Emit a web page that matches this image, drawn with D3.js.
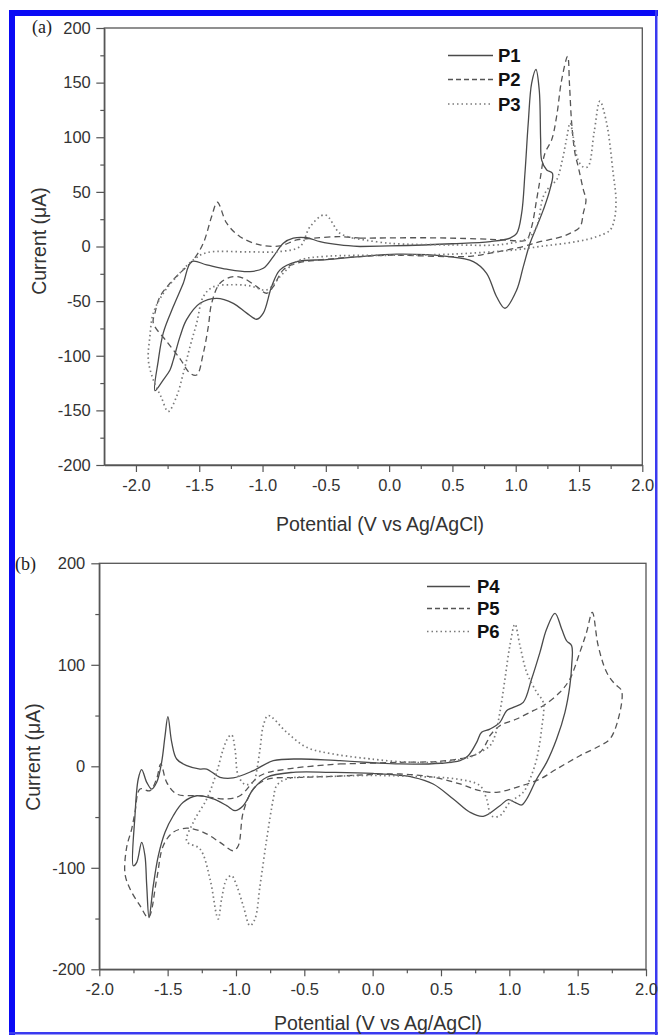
<!DOCTYPE html>
<html>
<head>
<meta charset="utf-8">
<script src="https://cdn.jsdelivr.net/npm/d3@7"></script>
<style>
  body { margin: 0; background: #fff; }
  svg { display: block; }
</style>
</head>
<body>
<script>
// ---- data: [potential (V), current (uA)] ----
var p1 = [[-0.23,0],[0.0,0.5],[0.5,2.5],[0.8,4.5],[0.955,7.6],[1.008,12],[1.047,30.5],[1.073,67],[1.099,113],
  [1.126,149.5],[1.16,162],[1.186,143],[1.197,97.6],[1.205,79],[1.245,70],[1.29,67],[1.27,52],[1.218,33.5],
  [1.165,18],[1.113,3],[1.06,-18.4],[1.007,-40],[0.915,-56.5],[0.849,-46],[0.77,-24.5],[0.665,-13.8],
  [0.455,-9],[0.06,-7],[-0.23,-9.2],[-0.493,-12],[-0.73,-13.8],[-0.862,-21.4],[-0.928,-36.7],[-0.994,-61],
  [-1.046,-66.6],[-1.125,-61],[-1.231,-52],[-1.362,-47.4],[-1.494,-52],[-1.6,-67],[-1.652,-82.5],[-1.705,-104],
  [-1.731,-113],[-1.784,-122],[-1.85,-132],[-1.823,-104],[-1.784,-79],[-1.705,-55],[-1.626,-33.6],[-1.56,-13.8],
  [-1.441,-16.8],[-1.283,-20.8],[-1.099,-23],[-0.994,-19.9],[-0.915,-9.2],[-0.836,3],[-0.757,7.6],[-0.651,8],
  [-0.546,4.5],[-0.388,1.5],[-0.23,0]];
var p2 = [[-0.23,7.6],[0.3,8],[0.7,7],[0.9,6],[1.05,5],[1.087,6],[1.126,18],[1.165,42.7],[1.192,61],[1.231,85.4],
  [1.284,97.6],[1.323,119],[1.363,152.5],[1.41,174],[1.425,148],[1.442,113],[1.468,85.4],[1.494,73],[1.534,52],
  [1.555,42.7],[1.534,30.5],[1.508,18],[1.428,12],[1.323,7.6],[1.19,4.5],[1.06,0],[0.8,-6],[0.64,-9],[0.0,-8],
  [-0.23,-9.2],[-0.546,-12.3],[-0.73,-15.3],[-0.836,-21.4],[-0.915,-36.7],[-0.967,-42.8],[-1.046,-36.7],
  [-1.152,-29],[-1.231,-27.5],[-1.336,-33.6],[-1.402,-52],[-1.428,-73],[-1.468,-97.7],[-1.52,-117.6],
  [-1.573,-116],[-1.65,-103],[-1.75,-88],[-1.863,-70],[-1.85,-61],[-1.81,-45.9],[-1.731,-33.6],[-1.626,-21.4],
  [-1.547,-12.3],[-1.468,3],[-1.402,27.4],[-1.357,40.5],[-1.283,21.3],[-1.178,9],[-1.02,1.5],[-0.862,0.5],
  [-0.73,6],[-0.598,7.6],[-0.388,9],[-0.23,7.6]];
var p3 = [[-0.28,7.6],[0.0,3],[0.5,1.5],[0.9,2],[1.1,8],[1.165,18],[1.218,45.7],[1.27,55],[1.323,61],[1.37,80],
  [1.40,97.6],[1.43,113],[1.455,100],[1.49,80],[1.53,73],[1.57,73],[1.62,105],[1.665,133],[1.718,113],[1.77,67],
  [1.792,42.7],[1.78,25],[1.745,15],[1.64,9],[1.481,4.5],[1.19,0],[1.0,-3],[0.5,-7],[0.0,-8],[-0.5,-9],
  [-0.704,-12.3],[-0.783,-18.4],[-0.862,-27.5],[-0.967,-39.7],[-1.1,-36],[-1.231,-35],[-1.39,-37],[-1.468,-45.9],
  [-1.52,-70],[-1.573,-91.7],[-1.626,-116],[-1.678,-137],[-1.745,-151],[-1.80,-138],[-1.863,-122],[-1.902,-104],
  [-1.89,-82.5],[-1.863,-61],[-1.784,-42.8],[-1.678,-27.5],[-1.547,-12.3],[-1.441,-5.6],[-1.1,-5],[-0.862,-4.6],
  [-0.704,0],[-0.625,18],[-0.507,29],[-0.388,12],[-0.28,7.6]];

var p4 = [[-0.239,5.5],[0.2,2.3],[0.5,3],[0.639,5.5],[0.699,10.4],[0.761,23.6],[0.797,33.5],[0.858,36.7],
  [0.931,43.3],[0.98,54.8],[1.029,58.1],[1.102,63],[1.163,86],[1.224,112.3],[1.273,135.3],[1.334,150.7],
  [1.383,135.3],[1.419,123.7],[1.456,118.8],[1.456,99],[1.443,79.4],[1.407,53.2],[1.346,26.9],[1.273,3.9],
  [1.2,-12.5],[1.127,-32.2],[1.09,-38.1],[1.041,-35.5],[0.992,-32.9],[0.931,-38.8],[0.809,-49.3],[0.712,-45.3],
  [0.59,-32.2],[0.443,-17.4],[0.297,-10.8],[0.0,-7],[-0.312,-5.9],[-0.581,-5.9],[-0.775,-10.8],[-0.873,-22.4],
  [-0.947,-38.8],[-1.007,-43.7],[-1.068,-38.8],[-1.166,-32.2],[-1.287,-29],[-1.386,-35.5],[-1.459,-48.7],
  [-1.519,-65],[-1.568,-88],[-1.605,-117.6],[-1.636,-149],[-1.653,-117.6],[-1.666,-88],[-1.69,-75],
  [-1.726,-94.6],[-1.751,-98],[-1.739,-48.7],[-1.715,-12.5],[-1.69,-3.3],[-1.653,-15.8],[-1.617,-22.4],
  [-1.58,-15.8],[-1.544,3.9],[-1.519,30],[-1.498,49],[-1.47,23.6],[-1.434,7.2],[-1.36,0.6],[-1.263,-2.7],
  [-1.214,-2.7],[-1.117,-10.8],[-1.02,-11.5],[-0.873,-4.3],[-0.727,5.5],[-0.532,7.2],[-0.239,5.5]];
var p5 = [[-0.239,2.3],[0.2,3.9],[0.5,5],[0.688,8.9],[0.785,13.8],[0.84,25],[0.858,30.1],[0.931,40],[1.053,46.6],
  [1.175,54.8],[1.248,59.7],[1.37,72.9],[1.443,86],[1.516,112.3],[1.565,132],[1.607,151.7],[1.65,118.8],
  [1.712,92.6],[1.772,81.1],[1.821,74.5],[1.797,46.6],[1.736,26.9],[1.663,20.3],[1.516,10.4],[1.346,-2.7],
  [1.224,-12.5],[1.053,-20.7],[0.907,-25.6],[0.785,-24],[0.639,-17.4],[0.443,-10.8],[0.2,-7.6],[-0.3,-10],
  [-0.532,-11],[-0.775,-13],[-0.873,-22.4],[-0.947,-45.3],[-0.983,-78.2],[-1.02,-83.2],[-1.117,-74.9],
  [-1.239,-65],[-1.36,-61],[-1.459,-65],[-1.532,-78.2],[-1.58,-111],[-1.641,-149],[-1.702,-137.3],
  [-1.775,-120.8],[-1.812,-106],[-1.80,-80],[-1.763,-61.8],[-1.739,-45.3],[-1.702,-22.4],[-1.629,-24],
  [-1.58,-12],[-1.55,2.3],[-1.507,-15.8],[-1.434,-27.3],[-1.263,-29],[-1.068,-32.2],[-0.971,-29],[-0.824,-9.3],
  [-0.629,-2.7],[-0.239,2.3]];
var p6 = [[0.0,7],[0.2,4.5],[0.5,4],[0.688,8],[0.785,13.8],[0.858,20.3],[0.895,30.1],[0.931,53.2],[0.968,86],
  [1.004,118.8],[1.041,140],[1.078,118.8],[1.127,92.6],[1.2,72.9],[1.248,63],[1.236,36.7],[1.2,7.2],[1.151,-12.5],
  [1.102,-25.6],[1.004,-35.5],[0.931,-48.7],[0.87,-49],[0.834,-32.2],[0.785,-19],[0.614,-12.5],[0.3,-10],
  [0.0,-9],[-0.3,-10],[-0.629,-12.5],[-0.702,-19],[-0.727,-32.2],[-0.775,-71.6],[-0.824,-117.6],[-0.861,-150.4],
  [-0.898,-157],[-0.947,-137.3],[-0.995,-117.6],[-1.032,-107.8],[-1.068,-111],[-1.105,-130.7],[-1.129,-150.4],
  [-1.141,-147],[-1.19,-111],[-1.263,-81.5],[-1.36,-74],[-1.312,-55],[-1.214,-32.2],[-1.141,-5.9],[-1.093,17],
  [-1.056,28.6],[-1.032,31],[-1.007,17],[-0.983,-9.3],[-0.93,-18],[-0.87,-15],[-0.849,-5],[-0.824,17],[-0.8,40],
  [-0.764,50],[-0.629,33.5],[-0.483,18.7],[-0.288,12.1],[0.0,7]];

// ---- ticks and labels ----
var aYMajor = [-200, -150, -100, -50, 0, 50, 100, 150, 200];
var aYMinor = [-175, -125, -75, -25, 25, 75, 125, 175];
var aXMajor = [-2.0, -1.5, -1.0, -0.5, 0.0, 0.5, 1.0, 1.5, 2.0];
var aXMinor = [-1.75, -1.25, -0.75, -0.25, 0.25, 0.75, 1.25, 1.75];
var bYMajor = [-200, -100, 0, 100, 200];
var bYMinor = [-150, -50, 50, 150];
var bXMajor = [-2.0, -1.5, -1.0, -0.5, 0.0, 0.5, 1.0, 1.5, 2.0];
var bXMinor = [-1.75, -1.25, -0.75, -0.25, 0.25, 0.75, 1.25, 1.75];
var aNames = ['P1', 'P2', 'P3'];
var bNames = ['P4', 'P5', 'P6'];

var W = 658, H = 1035;
var sans = "'Liberation Sans', Arial, sans-serif";
var serif = "'Liberation Serif', 'Times New Roman', serif";

var styles = [
  {stroke: '#4a4a4a', width: 1.3, dash: null},
  {stroke: '#555', width: 1.3, dash: '6,4'},
  {stroke: '#7a7a7a', width: 1.7, dash: '1.5,3'}
];

var svg = d3.select('body').append('svg')
  .attr('width', W)
  .attr('height', H);

svg.append('rect').attr('width', W).attr('height', H).attr('fill', '#fff');

// blue frame round the figure
svg.append('rect').attr('x', 9).attr('y', 10).attr('width', 6).attr('height', H - 10).attr('fill', '#0a0af5');
svg.append('rect').attr('x', 9).attr('y', 10).attr('width', W - 9).attr('height', 6).attr('fill', '#0a0af5');
svg.append('rect').attr('x', 655).attr('y', 10).attr('width', 2.5).attr('height', H - 10).attr('fill', '#3a3af0');
svg.append('rect').attr('x', 9).attr('y', 1032).attr('width', W - 9).attr('height', 2.5).attr('fill', '#3a3af0');

function drawPanel(p) {
  var x = d3.scaleLinear().domain(p.xDomain).range([p.left, p.right]);
  var y = d3.scaleLinear().domain([-200, 200]).range([p.bottom, p.top]);

  // box
  svg.append('rect')
    .attr('x', p.left).attr('y', p.top)
    .attr('width', p.right - p.left).attr('height', p.bottom - p.top)
    .attr('fill', 'none').attr('stroke', '#555').attr('stroke-width', 1.3);

  // curves
  var line = d3.line()
    .x(function(d) { return x(d[0]); })
    .y(function(d) { return y(d[1]); })
    .curve(d3.curveCatmullRom.alpha(0.5));

  p.series.forEach(function(s, i) {
    svg.append('path')
      .datum(s)
      .attr('d', line)
      .attr('fill', 'none')
      .attr('stroke', styles[i].stroke)
      .attr('stroke-width', styles[i].width)
      .attr('stroke-dasharray', styles[i].dash)
      .attr('stroke-linejoin', 'round');
  });

  // y axis
  var gy = svg.append('g')
    .attr('transform', 'translate(' + p.left + ',0)')
    .call(d3.axisLeft(y).tickValues(p.yMajor).tickSize(8).tickSizeOuter(0).tickPadding(p.yPad)
      .tickFormat(function(d) { return String(d); }));
  svg.append('g')
    .attr('transform', 'translate(' + p.left + ',0)')
    .call(d3.axisLeft(y).tickValues(p.yMinor).tickSize(4).tickSizeOuter(0).tickFormat(''))
    .select('.domain').remove();

  // x axis
  var gx = svg.append('g')
    .attr('transform', 'translate(0,' + p.bottom + ')')
    .call(d3.axisBottom(x).tickValues(p.xMajor).tickSize(7).tickSizeOuter(0).tickPadding(7)
      .tickFormat(function(d) { return d.toFixed(1); }));
  svg.append('g')
    .attr('transform', 'translate(0,' + p.bottom + ')')
    .call(d3.axisBottom(x).tickValues(p.xMinor).tickSize(4).tickSizeOuter(0).tickFormat(''))
    .select('.domain').remove();

  svg.selectAll('.tick line').attr('stroke', '#555').attr('stroke-width', 1.2);
  svg.selectAll('.domain').attr('stroke', '#555').attr('stroke-width', 1.3);
  [gx, gy].forEach(function(g) {
    g.attr('font-family', sans).attr('font-size', '16.5px');
    g.selectAll('text').attr('fill', '#333');
  });

  // axis titles
  svg.append('text')
    .attr('transform', 'translate(' + p.yTitle[0] + ',' + p.yTitle[1] + ') rotate(-90)')
    .attr('text-anchor', 'middle')
    .attr('font-family', sans).attr('font-size', '19.5px').attr('fill', '#333')
    .text('Current (\u03bcA)');
  svg.append('text')
    .attr('x', p.xTitle[0]).attr('y', p.xTitle[1])
    .attr('text-anchor', 'middle')
    .attr('font-family', sans).attr('font-size', '19.5px').attr('fill', '#333')
    .text('Potential (V vs Ag/AgCl)');

  // panel tag
  svg.append('text')
    .attr('x', p.tag[1]).attr('y', p.tag[2])
    .attr('font-family', serif).attr('font-size', '18px').attr('fill', '#222')
    .text(p.tag[0]);

  // legend
  p.names.forEach(function(name, i) {
    var cy = p.legY[i];
    svg.append('line')
      .attr('x1', p.legX[0]).attr('x2', p.legX[1])
      .attr('y1', cy).attr('y2', cy)
      .attr('stroke', styles[i].stroke)
      .attr('stroke-width', styles[i].width)
      .attr('stroke-dasharray', i === 1 ? '5,3' : styles[i].dash);
    svg.append('text')
      .attr('x', p.legX[2]).attr('y', cy + 6.5)
      .attr('font-family', sans).attr('font-size', '18.5px').attr('font-weight', 'bold')
      .attr('fill', '#111')
      .text(name);
  });
}

drawPanel({
  xDomain: [-2.25, 2.0], left: 104.3, right: 642.3, top: 28, bottom: 465,
  yMajor: aYMajor, yMinor: aYMinor, xMajor: aXMajor, xMinor: aXMinor, yPad: 5.5,
  series: [p1, p2, p3], names: aNames,
  legX: [448, 493, 498], legY: [55.5, 79.5, 104],
  yTitle: [46, 241], xTitle: [380, 531], tag: ['(a)', 32, 33]
});

drawPanel({
  xDomain: [-2.0, 2.0], left: 99.3, right: 646, top: 563.3, bottom: 969.3,
  yMajor: bYMajor, yMinor: bYMinor, xMajor: bXMajor, xMinor: bXMinor, yPad: 6,
  series: [p4, p5, p6], names: bNames,
  legX: [427, 470, 477], legY: [586.5, 608.5, 631.5],
  yTitle: [40, 757], xTitle: [378, 1030], tag: ['(b)', 15, 570]
});
</script>
</body>
</html>
